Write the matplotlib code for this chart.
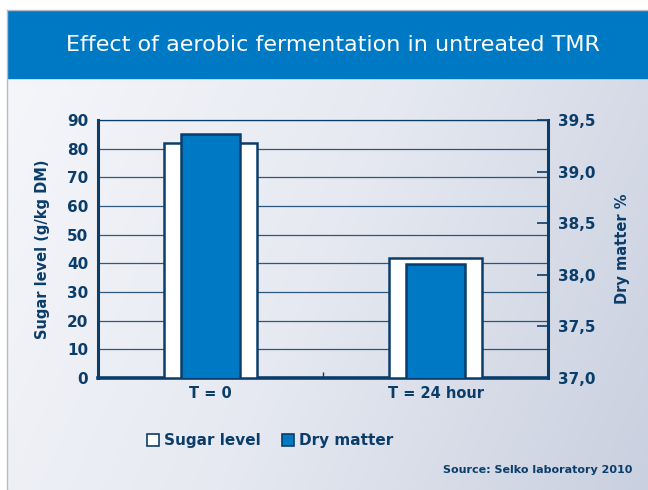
import numpy as np
import matplotlib.pyplot as plt
from matplotlib.colors import LinearSegmentedColormap
from matplotlib.patches import Rectangle

# data
categories = ['T = 0', 'T = 24 hour']
sugar = [82, 42]            # g/kg DM, left axis
dry_matter = [39.36, 38.10]  # %, right axis
left_ticks = [0, 10, 20, 30, 40, 50, 60, 70, 80, 90]
right_ticks = [37.0, 37.5, 38.0, 38.5, 39.0, 39.5]
right_labels = ['37,0', '37,5', '38,0', '38,5', '39,0', '39,5']

navy = '#0b3d6b'
blue = '#0079c4'
plt.rcParams['font.family'] = ['DejaVu Sans']

fig = plt.figure(figsize=(6.48, 4.9), dpi=100)

# background panel with gradient
bg = fig.add_axes([7 / 648, 0, 1 - 7 / 648, 1 - 10 / 490], zorder=-10)
cmap = LinearSegmentedColormap.from_list('bg', ['#f6f7fb', '#e6e9f1', '#c9d0df'])
gx, gy = np.meshgrid(np.linspace(0, 1, 200), np.linspace(0, 1, 200))
bg.imshow(0.75 * gx + 0.25 * gy, cmap=cmap, aspect='auto', extent=[0, 1, 0, 1], origin='upper')
bg.add_patch(Rectangle((0, 1 - 68 / 480), 1, 68 / 480, color=blue, transform=bg.transAxes))
bg.set_xlim(0, 1)
bg.set_ylim(0, 1)
for s in bg.spines.values():
    s.set_color('#b8bcc6')
    s.set_linewidth(1)
bg.spines['right'].set_visible(False)
bg.spines['bottom'].set_visible(False)
bg.set_xticks([])
bg.set_yticks([])

fig.text(333 / 648, 1 - 45 / 490, 'Effect of aerobic fermentation in untreated TMR',
         color='white', fontsize=16, fontweight='medium', ha='center', va='center')

ax = fig.add_axes([98 / 648, 1 - 378 / 490, 450 / 648, 258 / 490])
ax.patch.set_alpha(0)
x = np.arange(len(categories))
ax.bar(x, sugar, width=0.41, color='white', edgecolor=navy, linewidth=1.8, zorder=3)
ax.set_ylim(0, 90)
ax.set_xlim(-0.5, 1.5)
ax.set_yticks(left_ticks)
ax.set_yticklabels([str(t) for t in left_ticks])
ax.yaxis.grid(True, color=navy, linewidth=0.9, alpha=0.85, zorder=0)
ax.set_axisbelow(True)
ax.tick_params(axis='y', length=0, pad=7, labelsize=11, labelcolor=navy)
ax.set_xticks(x)
ax.set_xticklabels(categories)
ax.tick_params(axis='x', length=0, pad=6, labelsize=10.5, labelcolor=navy)
for lab in ax.get_xticklabels() + ax.get_yticklabels():
    lab.set_fontweight('bold')
ax.set_xticks([0.5], minor=True)
ax.tick_params(axis='x', which='minor', length=4, width=1, color=navy, direction='in')
ax.spines['left'].set_linewidth(2.2)
ax.spines['bottom'].set_linewidth(2.6)
ax.spines['top'].set_linewidth(0.9)
ax.spines['right'].set_visible(False)
for s in ax.spines.values():
    s.set_color(navy)
ax.set_ylabel('Sugar level (g/kg DM)', color=navy, fontsize=10.5, fontweight='bold', labelpad=12)

ax2 = ax.twinx()
ax2.patch.set_alpha(0)
ax2.bar(x, dry_matter, width=0.26, bottom=0, color=blue, edgecolor=navy, linewidth=1.8, zorder=4)
ax2.set_ylim(37.0, 39.5)
ax2.set_yticks(right_ticks)
ax2.set_yticklabels(right_labels)
ax2.tick_params(axis='y', length=8, width=1.2, color=navy, direction='in', pad=7,
                labelsize=11, labelcolor=navy)
for lab in ax2.get_yticklabels():
    lab.set_fontweight('bold')
ax2.spines['right'].set_linewidth(2.2)
ax2.spines['right'].set_color(navy)
for k in ['left', 'top', 'bottom']:
    ax2.spines[k].set_visible(False)
ax2.set_ylabel('Dry matter %', color=navy, fontsize=10.5, fontweight='bold', labelpad=14)

# legend
fig.patches.append(Rectangle((147 / 648, 1 - 446 / 490), 12 / 648, 12 / 490, facecolor='white',
                             edgecolor=navy, linewidth=1.2, transform=fig.transFigure))
fig.text(164 / 648, 1 - 440 / 490, 'Sugar level', color=navy, fontsize=11, fontweight='bold', va='center')
fig.patches.append(Rectangle((282 / 648, 1 - 446 / 490), 12 / 648, 12 / 490, facecolor=blue,
                             edgecolor=navy, linewidth=1.2, transform=fig.transFigure))
fig.text(299 / 648, 1 - 440 / 490, 'Dry matter', color=navy, fontsize=11, fontweight='bold', va='center')

fig.text(632 / 648, 1 - 470 / 490, 'Source: Selko laboratory 2010', color=navy, fontsize=8,
         fontweight='bold', ha='right', va='center')

fig.savefig('out.png', dpi=100)
